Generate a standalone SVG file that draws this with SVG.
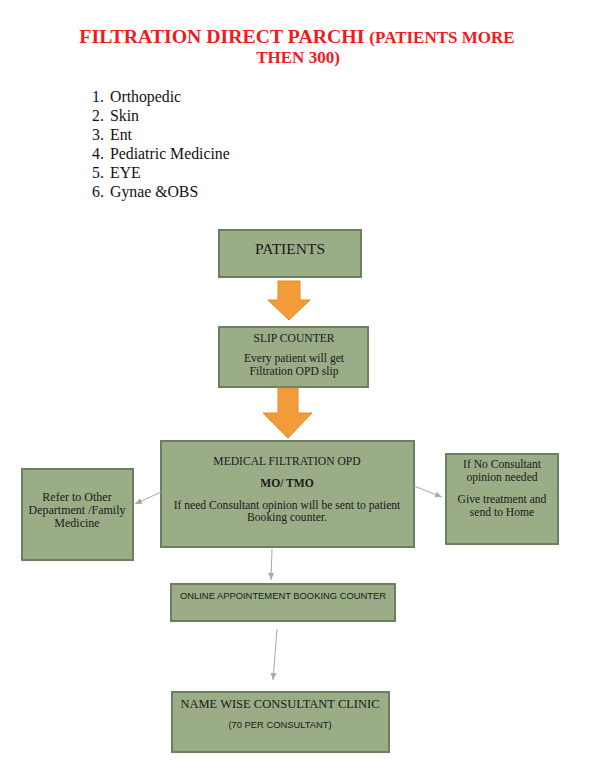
<svg xmlns="http://www.w3.org/2000/svg" width="598" height="771" viewBox="0 0 598 771">
<style>
.box{fill:#9bad87;stroke:#6e7e61;stroke-width:2}
.t{font-family:"Liberation Serif",serif;fill:#1a1a1a;text-anchor:middle;font-size:11.6px}
.s{font-family:"Liberation Sans",sans-serif;fill:#1a1a1a;text-anchor:middle}
.li{font-family:"Liberation Serif",serif;font-size:15.8px;fill:#111}
.con{stroke:#a8ab9f;stroke-width:1;fill:none;marker-end:url(#ah)}
.big{fill:#f39c3a;stroke:#e0892a;stroke-width:1}
</style>
<defs>
<marker id="ah" markerWidth="8" markerHeight="8" refX="7" refY="4" orient="auto" markerUnits="userSpaceOnUse">
<path d="M0,1 L7,4 L0,7 Z" fill="#a8ab9f"/>
</marker>
</defs>
<rect width="598" height="771" fill="#fff"/>
<g id="title" font-family="Liberation Serif,serif" font-weight="bold" fill="#ee1c1c" text-anchor="middle">
<text x="297" y="43"><tspan font-size="19.8">FILTRATION DIRECT PARCHI </tspan><tspan font-size="17">(PATIENTS MORE</tspan></text>
<text x="298" y="63" font-size="17">THEN 300)</text>
</g>
<g id="list">
<text class="li" x="92" y="102">1.</text><text class="li" x="110" y="102">Orthopedic</text>
<text class="li" x="92" y="121">2.</text><text class="li" x="110" y="121">Skin</text>
<text class="li" x="92" y="140">3.</text><text class="li" x="110" y="140">Ent</text>
<text class="li" x="92" y="159">4.</text><text class="li" x="110" y="159">Pediatric Medicine</text>
<text class="li" x="92" y="178">5.</text><text class="li" x="110" y="178">EYE</text>
<text class="li" x="92" y="197">6.</text><text class="li" x="110" y="197">Gynae &amp;OBS</text>
</g>
<g id="patients">
<rect class="box" x="219" y="230" width="142" height="47"/>
<text class="t" x="290" y="254" style="font-size:15.5px">PATIENTS</text>
</g>
<g id="slip">
<rect class="box" x="219" y="327" width="149" height="60"/>
<text class="t" x="294" y="342">SLIP COUNTER</text>
<text class="t" x="294" y="362">Every patient will get</text>
<text class="t" x="294" y="375">Filtration OPD slip</text>
</g>
<g id="medical">
<rect class="box" x="161" y="441" width="253" height="106"/>
<text class="t" x="287" y="465">MEDICAL FILTRATION OPD</text>
<text class="t" x="287" y="487" font-weight="bold">MO/ TMO</text>
<text class="t" x="287" y="509">If need Consultant opinion will be sent to patient</text>
<text class="t" x="287" y="521">Booking counter.</text>
</g>
<g id="refer">
<rect class="box" x="22" y="469" width="111" height="91"/>
<text class="t" x="77" y="501" style="font-size:12px">Refer to Other</text>
<text class="t" x="77" y="514" style="font-size:12px">Department /Family</text>
<text class="t" x="77" y="527" style="font-size:12px">Medicine</text>
</g>
<g id="noconsult">
<rect class="box" x="446" y="454" width="112" height="90"/>
<text class="t" x="502" y="468">If No Consultant</text>
<text class="t" x="502" y="481">opinion needed</text>
<text class="t" x="502" y="503">Give treatment and</text>
<text class="t" x="502" y="516">send to Home</text>
</g>
<g id="online">
<rect class="box" x="171" y="584" width="224" height="37"/>
<text class="s" x="283" y="599" font-size="9.5" textLength="206" lengthAdjust="spacingAndGlyphs">ONLINE APPOINTEMENT BOOKING COUNTER</text>
</g>
<g id="clinic">
<rect class="box" x="172" y="692" width="217" height="60"/>
<text class="t" x="280" y="708" style="font-size:12.5px">NAME WISE CONSULTANT CLINIC</text>
<text class="s" x="280" y="728" font-size="9.5" textLength="103" lengthAdjust="spacingAndGlyphs">(70 PER CONSULTANT)</text>
</g>
<g id="connectors">
<path class="big" d="M278,281 H300 V300 H310 L289,320 L268,300 H278 Z"/>
<path class="big" d="M278,388 H298 V413 H312 L288,438 L263,413 H278 Z"/>
<path class="con" d="M161,492 L135,504"/>
<path class="con" d="M414,486 L442,497"/>
<path class="con" d="M272,549 L271,580"/>
<path class="con" d="M277,629 L273,680"/>
</g>
</svg>
